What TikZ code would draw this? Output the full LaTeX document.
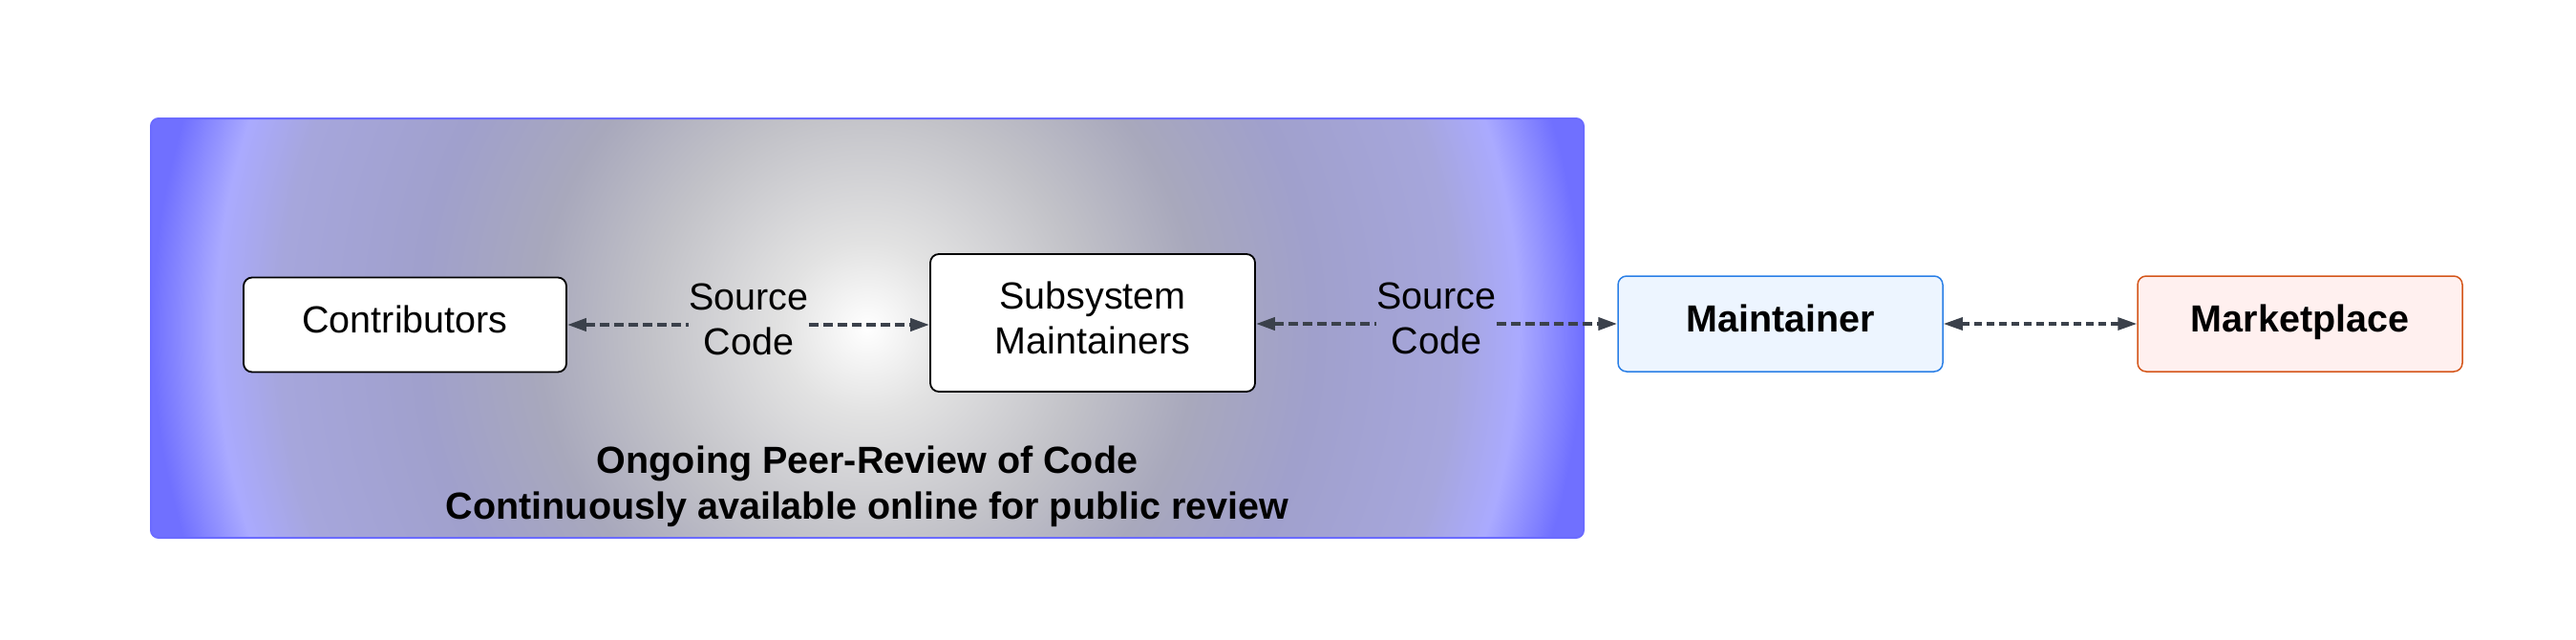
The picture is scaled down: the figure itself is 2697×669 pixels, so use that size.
\documentclass[tikz,border=0pt]{standalone}
\usepackage{fontspec}
\setmainfont{Liberation Sans}
\usetikzlibrary{arrows.meta}
\definecolor{gA}{HTML}{E2E2E2}
\definecolor{gB}{HTML}{C2C2C8}
\definecolor{gC}{HTML}{A8A8BC}
\definecolor{gD}{HTML}{A0A0CC}
\definecolor{gE}{HTML}{A6A6DC}
\definecolor{gF}{HTML}{AAAAFF}
\definecolor{gG}{HTML}{7070FF}
\definecolor{outerB}{HTML}{6B6BFF}
\definecolor{arrowC}{HTML}{3B414B}
\definecolor{maintFill}{HTML}{EDF5FF}
\definecolor{maintDraw}{HTML}{2A7FE6}
\definecolor{marketFill}{HTML}{FFF0EF}
\definecolor{marketDraw}{HTML}{D4561A}
\pgfdeclareradialshading{peershade}{\pgfpointorigin}{%
  color(0bp)=(white);
  color(2.5bp)=(gA);
  color(6.33bp)=(gB);
  color(9.6bp)=(gC);
  color(13bp)=(gD);
  color(17.1bp)=(gE);
  color(18.95bp)=(gF);
  color(20.8bp)=(gG);
  color(25bp)=(gG);
  color(50bp)=(gG)}
\begin{document}
\begin{tikzpicture}[x=1pt,y=-1pt,
  txt/.style={font=\fontsize{39.5}{47}\selectfont, align=center},
  boldtxt/.style={font=\fontsize{39.5}{47}\selectfont\bfseries},
  box/.style={txt, draw, line width=1.8pt, rounded corners=9pt, inner sep=0pt, fill=white},
  oneline/.style={text height=30pt, text depth=14pt},
  lbl/.style={txt, inner sep=0pt},
  conn/.style={draw=arrowC, line width=4pt, dash pattern=on 10pt off 5pt},
  connthin/.style={draw=arrowC, line width=3.3pt, dash pattern=on 8pt off 5pt},
  tipL/.style={{Triangle[length=20pt,width=13pt]}-},
  tipR/.style={-{Triangle[length=20pt,width=13pt]}},
  tipLR/.style={{Triangle[length=20pt,width=13pt]}-{Triangle[length=20pt,width=13pt]}}
]
\useasboundingbox (0,0) rectangle (2697,669);

% outer peer-review frame
\node (frame) [draw=outerB, line width=2pt, rounded corners=8pt,
  minimum width=1500pt, minimum height=439pt, inner sep=0pt,
  path picture={\shade[shading=peershade] (path picture bounding box.center) circle (900pt);}]
  at (908,343.5) {};

\node (contrib) [box, oneline, minimum width=338pt, minimum height=99pt] at (424,340) {Contributors};
\node (subsys) [box, text depth=10pt, minimum width=340pt, minimum height=144pt] at (1144,338) {Subsystem\\Maintainers};
\node (maint) [box, oneline, boldtxt, draw=maintDraw, fill=maintFill, line width=1.5pt, minimum width=340pt, minimum height=100pt] at (1864,339) {Maintainer};
\node (market) [box, oneline, boldtxt, draw=marketDraw, fill=marketFill, line width=1.5pt, minimum width=340pt, minimum height=100pt] at (2408,339) {Marketplace};

\node (src1) [lbl] at (784,334) {Source\\Code};
\node (src2) [lbl] at (1504,333) {Source\\Code};

\node (review) [lbl, font=\fontsize{39.5}{48}\selectfont\bfseries] at (908,509) {Ongoing Peer-Review of Code\\Continuously available online for public review};

% connectors
\draw[conn, tipL] (contrib.east) -- (contrib.east -| src1.west);
\draw[conn, tipR] (contrib.east -| src1.east) -- (contrib.east -| subsys.west);
\draw[conn, tipL] (subsys.east |- 0,339) -- (src2.west |- 0,339);
\draw[conn, tipR] (src2.east |- 0,339) -- (maint.west);
\draw[connthin, tipLR] (maint.east) -- (market.west);
\end{tikzpicture}
\end{document}
